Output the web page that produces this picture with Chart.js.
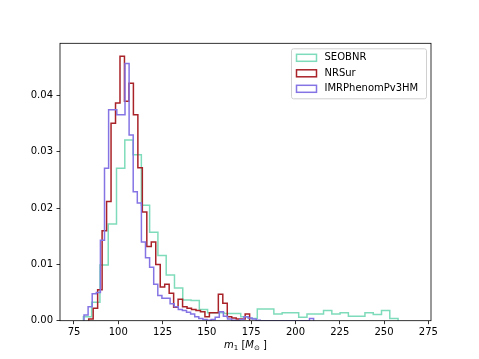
<!DOCTYPE html>
<html>
<head>
<meta charset="utf-8">
<script src="https://cdn.jsdelivr.net/npm/chart.js@4.4.1/dist/chart.umd.min.js"></script>
<style>
  html, body { margin: 0; padding: 0; background: #fff; }
  #wrap { width: 479px; height: 359px; position: relative; }
</style>
</head>
<body>
<div id="wrap"><canvas id="chart-hist"></canvas></div>
<script>
// m1 posterior densities (step histograms, own bins per model)
const seobnrStart = 80.3;
const seobnrWidth = 4.674;
const seobnr = [0.0007, 0.0033, 0.0099, 0.0172, 0.0271, 0.0321, 0.0295, 0.0205, 0.0157, 0.0116,
  0.0081, 0.0058, 0.0037, 0.0036, 0.0020, 0.0014, 0.0014, 0.0013, 0.0013, 0.0007,
  0.0004, 0.0021, 0.0021, 0.0012, 0.0014, 0.0014, 0.0006, 0.0012, 0.0012, 0.0018,
  0.0012, 0.0014, 0.0008, 0.0008, 0.0014, 0.0011, 0.0018, 0.0004];

const nrsurStart = 83.3;
const nrsurWidth = 2.523;
const nrsur = [0.0003, 0.0022, 0.0055, 0.0160, 0.0212, 0.0351, 0.0387, 0.0470, 0.0390, 0.0422,
  0.0366, 0.0272, 0.0193, 0.0132, 0.0140, 0.0100, 0.0060, 0.0065, 0.0049, 0.0024,
  0.0038, 0.0025, 0.0022, 0.0020, 0.0018, 0.0016, 0.0007, 0.0014, 0.0014, 0.0047,
  0.0031, 0.0007, 0.0005, 0.0003, 0.0003, 0.0012];

const imrStart = 80.65;
const imrWidth = 2.314;
const imr = [0.0010, 0.0025, 0.0048, 0.0050, 0.0143, 0.0271, 0.0375, 0.0375, 0.0366, 0.0366,
  0.0457, 0.0330, 0.0229, 0.0209, 0.0140, 0.0112, 0.0095, 0.0065, 0.0045, 0.0040,
  0.0040, 0.0030, 0.0025, 0.0020, 0.0018, 0.0015, 0.0012, 0.0007, 0.0004, 0.0002,
  0.0001, 0.0002, 0.0006, 0.0016, 0.0008, 0.0003, 0.0001, 0, 0.0002, 0.0007,
  0.0005, 0.0003, 0.0001, 0, 0, 0, 0, 0, 0, 0,
  0, 0, 0, 0, 0, 0.0004];

const seriesNames = ['SEOBNR', 'NRSur', 'IMRPhenomPv3HM'];
const seriesColors = ['#7fdcbb', '#a82228', '#8474e4'];
const xTicks = [75, 100, 125, 150, 175, 200, 225, 250, 275];
const yTicks = [0.00, 0.01, 0.02, 0.03, 0.04];

// edges -> points for a stepped line (starts and ends on the baseline like histtype='step')
function stepPoints(start, width, vals) {
  const pts = [{ x: start, y: 0 }];
  vals.forEach((v, i) => pts.push({ x: start + i * width, y: v }));
  pts.push({ x: start + vals.length * width, y: 0 });
  return pts;
}

const FONT = 'DejaVu Sans';

// frame, legend box and the math-style x label
const extras = {
  id: 'extras',
  afterDraw(chart) {
    const { ctx, chartArea: a } = chart;
    ctx.save();
    ctx.strokeStyle = '#000';
    ctx.lineWidth = 0.8;
    ctx.strokeRect(a.left, a.top, a.right - a.left, a.bottom - a.top);

    // legend
    const lw = 135, lh = 50;
    const lx = a.right - 4.5 - lw, ly = a.top + 5.5;
    ctx.fillStyle = 'rgba(255,255,255,0.8)';
    ctx.strokeStyle = '#d0d0d0';
    ctx.lineWidth = 1;
    ctx.beginPath();
    ctx.roundRect(lx, ly, lw, lh, 2);
    ctx.fill();
    ctx.stroke();
    ctx.font = '10px "' + FONT + '"';
    ctx.textBaseline = 'middle';
    seriesNames.forEach((name, i) => {
      const cy = ly + 9 + i * 15.5;
      ctx.strokeStyle = seriesColors[i];
      ctx.lineWidth = 1.5;
      ctx.strokeRect(lx + 5, cy - 3.5, 20, 7);
      ctx.fillStyle = '#000';
      ctx.fillText(name, lx + 33, cy);
    });

    // x label: m_1 [M_sun]
    const parts = [
      { t: 'm', f: 'italic 10px "' + FONT + '"', dy: 0 },
      { t: '1', f: '7px "' + FONT + '"', dy: 1.5 },
      { t: ' [', f: '10px "' + FONT + '"', dy: 0 },
      { t: 'M', f: 'italic 10px "' + FONT + '"', dy: 0 },
      { t: '⊙', f: '7px "' + FONT + '"', dy: 1.5 },
      { t: ' ]', f: '10px "' + FONT + '"', dy: 0 }
    ];
    let total = 0;
    parts.forEach(p => { ctx.font = p.f; p.w = ctx.measureText(p.t).width; total += p.w; });
    let x = (a.left + a.right) / 2 - total / 2;
    const base = 348;
    ctx.textBaseline = 'alphabetic';
    ctx.fillStyle = '#000';
    parts.forEach(p => { ctx.font = p.f; ctx.fillText(p.t, x, base + p.dy); x += p.w; });
    ctx.restore();
  }
};

const starts = [seobnrStart, nrsurStart, imrStart];
const widths = [seobnrWidth, nrsurWidth, imrWidth];
const values = [seobnr, nrsur, imr];

new Chart(document.getElementById('chart-hist'), {
  type: 'line',
  data: {
    datasets: seriesNames.map((name, i) => ({
      label: name,
      data: stepPoints(starts[i], widths[i], values[i]),
      borderColor: seriesColors[i],
      backgroundColor: 'transparent',
      borderWidth: 1.5,
      stepped: 'before',
      pointRadius: 0,
      fill: false,
      order: 2 - i
    }))
  },
  options: {
    responsive: true,
    maintainAspectRatio: false,
    animation: false,
    layout: { padding: { left: 0, right: 48, top: 43.3, bottom: 0 } },
    plugins: { legend: { display: false }, tooltip: { enabled: false } },
    scales: {
      x: {
        type: 'linear',
        min: 67.1,
        max: 276.5,
        afterBuildTicks: s => { s.ticks = xTicks.map(v => ({ value: v })); },
        afterFit: s => { s.height = 38.3; },
        border: { display: false },
        grid: { drawOnChartArea: false, tickLength: 3.5, tickColor: '#000', tickWidth: 0.8 },
        ticks: { color: '#000', padding: 2, maxRotation: 0, font: { family: FONT, size: 10 } }
      },
      y: {
        min: 0,
        max: 0.0493,
        afterBuildTicks: s => { s.ticks = yTicks.map(v => ({ value: v })); },
        afterFit: s => { s.width = 60; },
        border: { display: false },
        grid: { drawOnChartArea: false, tickLength: 3.5, tickColor: '#000', tickWidth: 0.8 },
        ticks: { color: '#000', padding: 3.5, font: { family: FONT, size: 10 },
          callback: v => v.toFixed(2) }
      }
    }
  },
  plugins: [extras]
});
</script>
</body>
</html>
